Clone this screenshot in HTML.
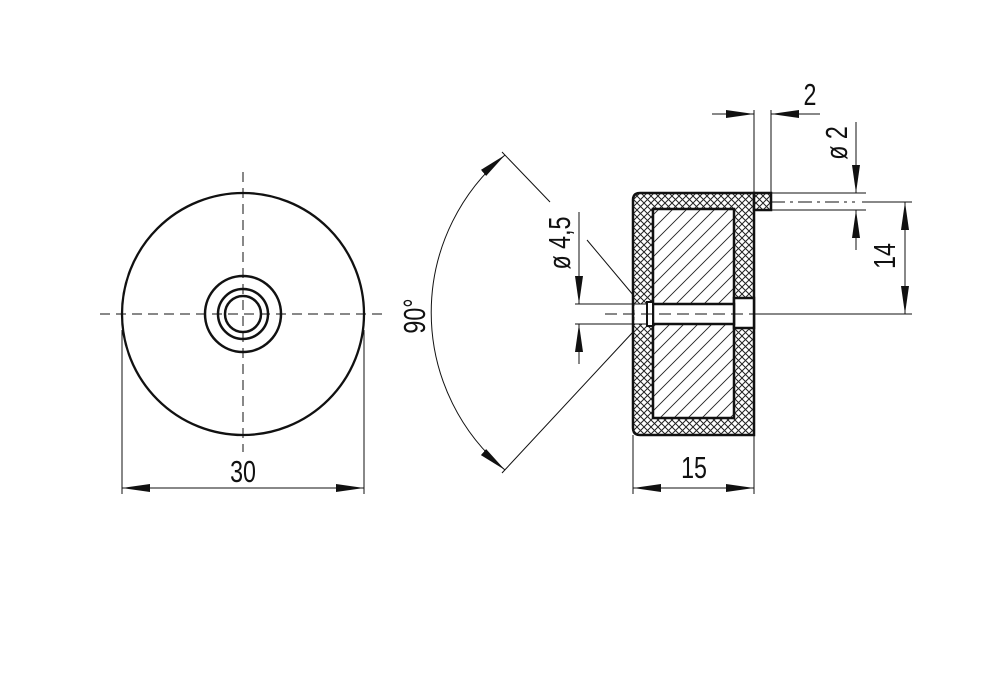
<!DOCTYPE html>
<html><head><meta charset="utf-8"><style>
html,body{margin:0;padding:0;background:#fff}
svg{display:block}
text{font-family:"Liberation Sans",sans-serif;font-size:31px;fill:#111}
</style></head><body>
<svg width="1000" height="698" viewBox="0 0 1000 698" xmlns="http://www.w3.org/2000/svg">
<defs>
<pattern id="cross" width="7" height="7" patternUnits="userSpaceOnUse">
<rect width="7" height="7" fill="#fff"/>
<path d="M0 0L7 7M7 0L0 7" stroke="#222" stroke-width="1"/>
</pattern>
<pattern id="diag" width="14" height="14" patternUnits="userSpaceOnUse">
<rect width="14" height="14" fill="#fff"/>
<path d="M-1 15L15 -1M-8 8L8 -8M6 22L22 6" stroke="#222" stroke-width="0.9"/>
</pattern>
<marker id="a" viewBox="0 0 28 10" refX="28" refY="5" markerWidth="28" markerHeight="10" markerUnits="userSpaceOnUse" orient="auto-start-reverse">
<path d="M0 1L28 5L0 9Z" fill="#111"/>
</marker>
</defs>

<g fill="none" stroke="#111">
<circle cx="243" cy="314" r="121" stroke-width="2.3"/>
<circle cx="243" cy="314" r="38" stroke-width="2.5"/>
<circle cx="243" cy="314" r="25" stroke-width="2.5"/>
<circle cx="243" cy="314" r="18" stroke-width="2.5"/>
<path d="M100 314H386M243 172V452" stroke-width="1" stroke-dasharray="10,6"/>
<path d="M122 330V494M364 330V494" stroke-width="1"/>
<path d="M122 488H364" stroke-width="1" marker-start="url(#a)" marker-end="url(#a)"/>
</g>
<text x="243" y="482" text-anchor="middle" transform="translate(243 0) scale(0.75 1) translate(-243 0)">30</text>

<path d="M640 193H754V435H640Q633 435 633 428V200Q633 193 640 193Z" fill="url(#cross)" stroke="#111" stroke-width="2.5"/>
<rect x="653" y="209" width="81" height="209" fill="url(#diag)" stroke="#111" stroke-width="2.5"/>
<rect x="754" y="193" width="17" height="17" fill="url(#cross)" stroke="#111" stroke-width="2.5"/>
<rect x="634.5" y="304" width="18" height="20" fill="#fff"/>
<rect x="734" y="298" width="20" height="30" fill="#fff" stroke="#111" stroke-width="2.5"/>
<rect x="653" y="304" width="81" height="20" fill="#fff" stroke="#111" stroke-width="2.5"/>
<rect x="647" y="302" width="6" height="24" fill="#fff" stroke="#111" stroke-width="2"/>

<g fill="none" stroke="#111" stroke-width="1">
<path d="M605 314H754" stroke-dasharray="12,6"/>
<path d="M771 202H855" stroke-dasharray="14,5,3,5"/>
<path d="M633 435V494M754 435V494"/>
<path d="M633 488H754" marker-start="url(#a)" marker-end="url(#a)"/>
<path d="M754 110V193M771 110V193"/>
<path d="M712 114H754" marker-end="url(#a)"/>
<path d="M820 114H771" marker-end="url(#a)"/>
<path d="M771 193H866M771 210H866"/>
<path d="M856 122V193" marker-end="url(#a)"/>
<path d="M856 250V210" marker-end="url(#a)"/>
<path d="M862 202H912M754 314H912"/>
<path d="M905 202V314" marker-start="url(#a)" marker-end="url(#a)"/>
<path d="M575 304H647M575 324H647"/>
<path d="M579 212V304" marker-end="url(#a)"/>
<path d="M579 364V324" marker-end="url(#a)"/>
<path d="M502 152L550 202M587 240L634 296M502 473L633 332"/>
<path d="M505 155A205 205 0 0 0 505 470" marker-start="url(#a)" marker-end="url(#a)"/>
</g>
<text x="694" y="478" text-anchor="middle" transform="translate(694 0) scale(0.75 1) translate(-694 0)">15</text>
<text x="810" y="105" text-anchor="middle" transform="translate(810 0) scale(0.75 1) translate(-810 0)">2</text>
<text transform="translate(847 143) rotate(-90) scale(0.75 1)" text-anchor="middle">ø 2</text>
<text transform="translate(895 256) rotate(-90) scale(0.75 1)" text-anchor="middle">14</text>
<text transform="translate(570 243) rotate(-90) scale(0.75 1)" text-anchor="middle">ø 4,5</text>
<text transform="translate(425 316) rotate(-90) scale(0.75 1)" text-anchor="middle">90°</text>
</svg>
</body></html>
